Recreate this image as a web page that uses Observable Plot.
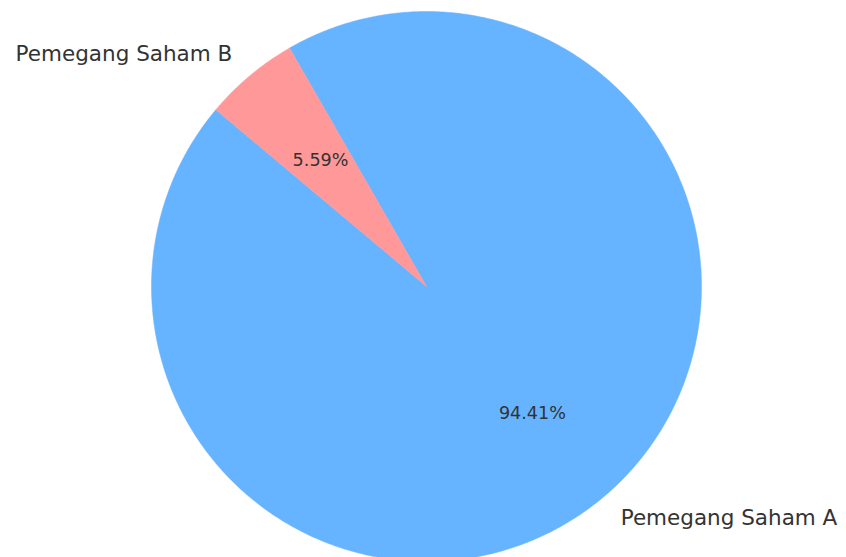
<!DOCTYPE html>
<html>
<head>
<meta charset="utf-8">
<script src="https://cdn.jsdelivr.net/npm/d3@7"></script>
<script src="https://cdn.jsdelivr.net/npm/@observablehq/plot@0.6"></script>
<style>
  html, body { margin: 0; padding: 0; background: #fff; }
  svg { display: block; }
</style>
</head>
<body>
<div id="chart"></div>
<script>
const labels = ["Pemegang Saham A", "Pemegang Saham B"];
const values = [94.41, 5.59];
const colors = ["#66b3ff", "#ff9999"];
const startAngle = 140; // degrees, counterclockwise

const W = 846, H = 557;
const R = 275;           // radius in pixel units
const cx = 426, cy = 286; // centre in pixels

// Build slices
const total = d3.sum(values);
let a = startAngle;
const slices = labels.map((name, i) => {
  const sweep = values[i] / total * 360;
  const s = {name, value: values[i], color: colors[i], a0: a, a1: a + sweep};
  a += sweep;
  return s;
});

const rad = d => d * Math.PI / 180;
const polyPoints = [];
slices.forEach(s => {
  polyPoints.push({name: s.name, x: 0, y: 0});
  const n = Math.max(4, Math.ceil((s.a1 - s.a0) / 0.5));
  for (let k = 0; k <= n; k++) {
    const t = rad(s.a0 + (s.a1 - s.a0) * k / n);
    polyPoints.push({name: s.name, x: R * Math.cos(t), y: R * Math.sin(t)});
  }
  polyPoints.push({name: s.name, x: 0, y: 0});
});

const labelData = slices.map(s => {
  const m = rad((s.a0 + s.a1) / 2);
  return {
    name: s.name,
    pct: s.value.toFixed(2) + "%",
    lx: 1.1 * R * Math.cos(m), ly: 1.1 * R * Math.sin(m),
    px: 0.6 * R * Math.cos(m), py: 0.6 * R * Math.sin(m),
    right: Math.cos(m) >= 0
  };
});

const marks = slices.map(s =>
  Plot.line(polyPoints.filter(p => p.name === s.name), {
    x: "x", y: "y", fill: s.color, stroke: s.color, strokeWidth: 0.5, curve: "linear"
  })
);

const textStyle = {fill: "#333333", fontFamily: "DejaVu Sans", lineAnchor: "middle"};
marks.push(
  Plot.text(labelData.filter(d => d.right), {x: "lx", y: "ly", text: "name", textAnchor: "start", fontSize: 21.5, ...textStyle}),
  Plot.text(labelData.filter(d => !d.right), {x: "lx", y: "ly", text: "name", textAnchor: "end", fontSize: 21.5, ...textStyle}),
  Plot.text(labelData, {x: "px", y: "py", text: "pct", textAnchor: "middle", fontSize: 17.6, ...textStyle})
);

const chart = Plot.plot({
  width: W,
  height: H,
  margin: 0,
  x: {domain: [-cx, W - cx], range: [0, W], axis: null},
  y: {domain: [-(H - cy), cy], range: [H, 0], axis: null},
  style: {fontFamily: "DejaVu Sans", background: "#fff"},
  marks
});
document.getElementById("chart").appendChild(chart);
</script>
</body>
</html>
